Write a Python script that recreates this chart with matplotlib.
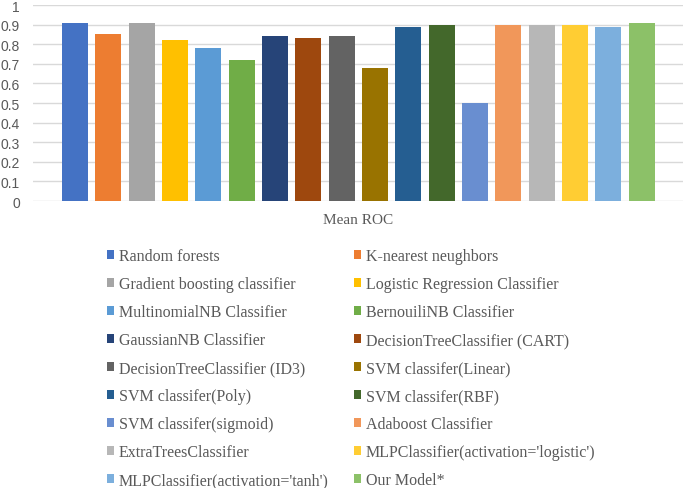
import matplotlib.pyplot as plt
import numpy as np

models = [
    "Random forests", "K-nearest neughbors",
    "Gradient boosting classifier", "Logistic Regression Classifier",
    "MultinomialNB Classifier", "BernouiliNB Classifier",
    "GaussianNB Classifier", "DecisionTreeClassifier (CART)",
    "DecisionTreeClassifier (ID3)", "SVM classifer(Linear)",
    "SVM classifer(Poly)", "SVM classifer(RBF)",
    "SVM classifer(sigmoid)", "Adaboost Classifier",
    "ExtraTreesClassifier", "MLPClassifier(activation='logistic')",
    "MLPClassifier(activation='tanh')", "Our Model*",
]
mean_roc = [0.91, 0.85, 0.91, 0.82, 0.78, 0.72, 0.84, 0.83, 0.84,
            0.68, 0.89, 0.90, 0.50, 0.90, 0.90, 0.90, 0.89, 0.91]
colors = ["#4472C4", "#ED7D31", "#A5A5A5", "#FFC000", "#5B9BD5", "#70AD47",
          "#264478", "#9E480E", "#636363", "#997300", "#255E91", "#43682B",
          "#698ED0", "#F1975A", "#B7B7B7", "#FFCD33", "#7CAFDD", "#8CC168"]
yticks = np.arange(0, 1.01, 0.1)
ytick_labels = ["0", "0.1", "0.2", "0.3", "0.4", "0.5", "0.6", "0.7", "0.8", "0.9", "1"]

W, H = 685, 489
fig = plt.figure(figsize=(W / 100, H / 100), dpi=100)
ax = fig.add_axes([33 / W, 1 - 202 / H, 650 / W, 196 / H])

x = np.arange(len(models))
bars = ax.bar(x, mean_roc, width=0.78, color=colors, zorder=3)

ax.set_xlim(-1.26, len(models) - 1 + 1.24)
ax.set_ylim(0, 1)
ax.set_yticks(yticks)
ax.set_yticklabels(ytick_labels, fontfamily="Liberation Sans", fontsize=10, color="#595959")
ax.tick_params(axis="y", length=0, pad=9.5)
ax.set_xticks([])
ax.grid(axis="y", color="#D9D9D9", linewidth=1, zorder=0)
for s in ax.spines.values():
    s.set_visible(False)

fig.text(358 / W, 1 - 221 / H, "Mean ROC", ha="center", va="center",
         fontfamily="Liberation Serif", fontsize=11, color="#595959")

# legend is row-major in the reference, matplotlib fills column-first
order = list(range(0, 18, 2)) + list(range(1, 18, 2))
handles = [bars[i] for i in order]
labels = [models[i] for i in order]
leg = fig.legend(handles, labels, ncol=2, loc="upper left",
                 bbox_to_anchor=(107 / W, 1 - 249 / H), frameon=False,
                 prop={"family": "Liberation Serif", "size": 11.5},
                 handlelength=0.45, handleheight=0.45, handletextpad=0.3,
                 labelspacing=0.755, columnspacing=1.55, borderpad=0, borderaxespad=0)
for t in leg.get_texts():
    t.set_color("#595959")

fig.savefig("out.png", dpi=100)
